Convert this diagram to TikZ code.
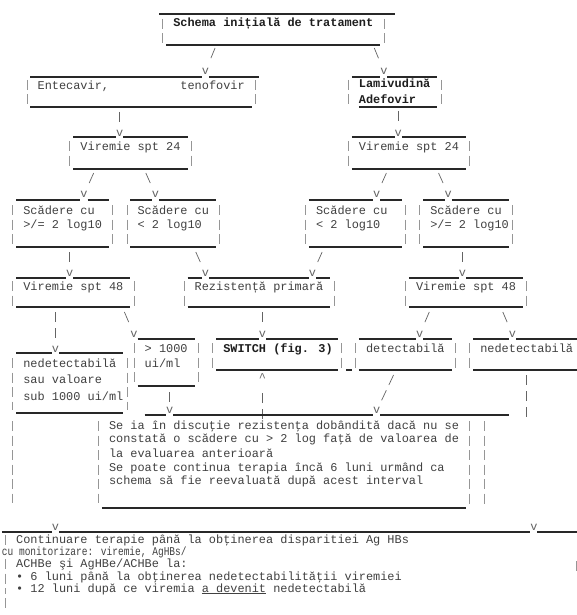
\documentclass[tikz,border=0pt]{standalone}
\usepackage{fontspec}
\newfontfamily\mono{Liberation Mono}
\usetikzlibrary{calc}
\definecolor{ink}{RGB}{65,65,65}
\definecolor{inkb}{RGB}{30,30,30}
\definecolor{rulec}{RGB}{40,40,40}
\definecolor{pipec}{RGB}{150,150,150}
\definecolor{tipc}{RGB}{100,100,100}
\tikzset{
 txt/.style={anchor=base west, inner sep=0pt, outer sep=0pt, font=\mono\fontsize{11.9}{13}\selectfont, text=ink, yshift=-3pt},
 btxt/.style={txt, font=\mono\bfseries\fontsize{11.9}{13}\selectfont, text=inkb},
 tip/.style={inner sep=0pt, outer sep=0pt, font=\mono\fontsize{11.9}{13}\selectfont, text=tipc, yshift=-1.5pt},
 uline/.style={draw=rulec, line width=1.1pt},
 bar/.style={draw=pipec, line width=0.7pt, dash pattern=on 10pt off 4.5pt},
 conn/.style={draw=tipc, line width=0.7pt},
 dconn/.style={conn, dash pattern=on 10pt off 6pt},
}
\newcommand\Hseg[3]{\draw[uline] (#1,#3) -- (#2,#3);}
\newcommand\Vbar[3]{\draw[bar] (#1,#2) -- (#1,#3);}
\begin{document}
\begin{tikzpicture}[x=7.14pt, y=-1pt]
\fill[white] (0,0) rectangle (80.812,615);
\useasboundingbox (0,0) rectangle (80.812,615);
\begin{scope}[xshift=5.5pt]
% ---- A : initial scheme
\Hseg{21.5}{54.5}{14}
\node[btxt] (schema) at (23.5,24) {Schema inițială de tratament};
\Vbar{22}{19}{44} \Vbar{53}{19}{44}
\Hseg{22.5}{52.5}{45}
% ---- A connectors
\node[tip] (vB) at (28,70) {v};
\node[tip] (vC) at (53,70) {v};
\coordinate (sA1) at (29.35,48);
\coordinate (sA2) at (51.65,48);
\draw[conn] (sA1) -- ($(sA1)!11pt!(vB)$);
\draw[conn] (sA2) -- ($(sA2)!11pt!(vC)$);
% ---- B
\Hseg{3.5}{27.5}{77} \Hseg{28.5}{35.5}{77}
\node[txt] (entec) at (4.5,87) {Entecavir,\hspace*{71.4pt}tenofovir};
\Vbar{3}{80}{106} \Vbar{35}{80}{106}
\Hseg{3.5}{34.5}{107}
% ---- C
\Hseg{48.5}{52.5}{77} \Hseg{53.5}{60.5}{77}
\node[btxt] (lami) at (49.5,85) {Lamivudină};
\node[btxt] (adef) at (49.5,100) {Adefovir};
\Vbar{48}{80}{106} \Vbar{61}{80}{106}
\Hseg{49.5}{60.5}{107}
% ---- B->D, C->E
\node[tip] (vD) at (16,132) {v};
\node[tip] (vE) at (55,132) {v};
\coordinate (sB) at (16,112);
\coordinate (sC) at (55,111);
\draw[conn] (sB) -- ($(sB)!10pt!(vD)$);
\draw[conn] (sC) -- ($(sC)!10pt!(vE)$);
% ---- D
\Hseg{9.5}{15.5}{137} \Hseg{16.5}{25.5}{137}
\node[txt] (vir24l) at (10.5,147) {Viremie spt 24};
\Vbar{9}{141}{167} \Vbar{26}{141}{167}
\Hseg{9.5}{25.5}{169}
% ---- E
\Hseg{48.5}{54.5}{137} \Hseg{55.5}{64.5}{137}
\node[txt] (vir24r) at (49.5,147) {Viremie spt 24};
\Vbar{48}{141}{167} \Vbar{65}{141}{167}
\Hseg{48.5}{64.5}{169}
% ---- D,E connectors
\node[tip] (vF1) at (11,193) {v};
\node[tip] (vF2) at (21,193) {v};
\node[tip] (vF3) at (52,193) {v};
\node[tip] (vF4) at (62,193) {v};
\coordinate (sD1) at (12.35,173);
\coordinate (sD2) at (19.65,173);
\coordinate (sE1) at (53.35,173);
\coordinate (sE2) at (60.65,173);
\draw[conn] (sD1) -- ($(sD1)!11pt!(vF1)$);
\draw[conn] (sD2) -- ($(sD2)!11pt!(vF2)$);
\draw[conn] (sE1) -- ($(sE1)!11pt!(vF3)$);
\draw[conn] (sE2) -- ($(sE2)!11pt!(vF4)$);
% ---- F1
\Hseg{1.5}{10.5}{200} \Hseg{11.5}{14.5}{200}
\node[txt] (f1a) at (2.5,211) {Scădere cu};
\node[txt] (f1b) at (2.5,225) {>/= 2 log10};
\Vbar{1}{205}{245} \Vbar{15}{205}{245}
\Hseg{1.5}{14.5}{247}
% ---- F2
\Hseg{17.5}{20.5}{200} \Hseg{21.5}{29.5}{200}
\node[txt] (f2a) at (18.5,211) {Scădere cu};
\node[txt] (f2b) at (18.5,225) {< 2 log10};
\Vbar{17}{205}{245} \Vbar{30}{205}{245}
\Hseg{17.5}{29.5}{247}
% ---- F3
\Hseg{42.5}{51.5}{200} \Hseg{52.5}{55.5}{200}
\node[txt] (f3a) at (43.5,211) {Scădere cu};
\node[txt] (f3b) at (43.5,225) {< 2 log10};
\Vbar{42}{205}{245} \Vbar{56}{205}{245}
\Hseg{42.5}{55.5}{247}
% ---- F4
\Hseg{58.5}{61.5}{200} \Hseg{62.5}{70.5}{200}
\node[txt] (f4a) at (59.5,211) {Scădere cu};
\node[txt] (f4b) at (59.5,225) {>/= 2 log10};
\Vbar{58}{205}{245} \Vbar{71}{205}{245}
\Hseg{58.5}{70.5}{247}
% ---- F connectors
\node[tip] (vG1) at (9,272) {v};
\node[tip] (vH1) at (28,272) {v};
\node[tip] (vH2) at (43,272) {v};
\node[tip] (vG2) at (64,272) {v};
\coordinate (sF1) at (9,252);
\coordinate (sF2) at (26.65,252);
\coordinate (sF3) at (44.35,252);
\coordinate (sF4) at (64,252);
\draw[conn] (sF1) -- ($(sF1)!10pt!(vG1)$);
\draw[conn] (sF2) -- ($(sF2)!11pt!(vH1)$);
\draw[conn] (sF3) -- ($(sF3)!11pt!(vH2)$);
\draw[conn] (sF4) -- ($(sF4)!10pt!(vG2)$);
% ---- G1
\Hseg{1.5}{8.5}{278} \Hseg{9.5}{17.5}{278}
\node[txt] (g1) at (2.5,287) {Viremie spt 48};
\Vbar{1}{281}{306} \Vbar{18}{281}{306}
\Hseg{1.5}{17.5}{307}
% ---- H
\Hseg{25.5}{27.5}{278} \Hseg{28.5}{42.5}{278} \Hseg{43.5}{45.5}{278}
\node[txt] (rez) at (26.5,287) {Rezistență primară};
\Vbar{25}{281}{306} \Vbar{46}{281}{306}
\Hseg{25.5}{45.5}{307}
% ---- G2
\Hseg{56.5}{63.5}{278} \Hseg{64.5}{72.5}{278}
\node[txt] (g2) at (57.5,287) {Viremie spt 48};
\Vbar{56}{281}{306} \Vbar{73}{281}{306}
\Hseg{56.5}{72.5}{307}
% ---- G/H connectors
\node[tip] (vI) at (7,348) {v};
\node[tip] (vJ) at (18,333) {v};
\node[tip] (vK) at (36,333) {v};
\node[tip] (vL) at (58,333) {v};
\node[tip] (vM) at (71,333) {v};
\coordinate (sG1a) at (7,312);
\coordinate (sG1b) at (16.65,312);
\coordinate (sH) at (36,312);
\coordinate (sG2a) at (59.35,312);
\coordinate (sG2b) at (69.65,312);
\draw[dconn] (sG1a) -- ($(sG1a)!26pt!(vI)$);
\draw[conn] (sG1b) -- ($(sG1b)!11pt!(vJ)$);
\draw[conn] (sH) -- ($(sH)!10pt!(vK)$);
\draw[conn] (sG2a) -- ($(sG2a)!11pt!(vL)$);
\draw[conn] (sG2b) -- ($(sG2b)!11pt!(vM)$);
% ---- J
\Hseg{18.5}{26.5}{339}
\node[txt] (j1) at (19.5,349) {> 1000};
\node[txt] (j2) at (19.5,364) {ui/ml};
\Vbar{18}{343}{385} \Vbar{27}{343}{385}
\Hseg{18.5}{26.5}{386}
% ---- K
\Hseg{29.5}{35.5}{339} \Hseg{36.5}{46.5}{339}
\node[btxt] (switch) at (30.5,349) {SWITCH (fig. 3)};
\Vbar{29}{343}{369} \Vbar{47}{343}{369}
\Hseg{29.5}{46.5}{370}
\Hseg{47.7}{48.5}{370}
% ---- L
\Hseg{49.5}{57.5}{339} \Hseg{58.5}{62.5}{339}
\node[txt] (det) at (50.5,349) {detectabilă};
\Vbar{49}{343}{369} \Vbar{63}{343}{369}
\Hseg{49.5}{62.5}{370}
% ---- M
\Hseg{65.5}{70.5}{339} \Hseg{71.5}{81}{339}
\node[txt] (nedr) at (66.5,349) {nedetectabilă};
\Vbar{65}{343}{369}
\Hseg{65.5}{81}{370}
% ---- I
\Hseg{1.5}{6.5}{353} \Hseg{7.5}{16.5}{353}
\node[txt] (i1) at (2.5,364) {nedetectabilă};
\node[txt] (i2) at (2.5,380) {sau valoare};
\node[txt] (i3) at (2.5,397) {sub 1000 ui/ml};
\Vbar{1}{358}{410} \Vbar{17}{358}{410}
\Hseg{1.5}{16.5}{413}
% ---- lower connectors
\node[tip, yshift=1.5pt] (upK) at (36,378) {\textasciicircum};
\node[tip] (vN1) at (23,409) {v};
\node[tip] (vN2) at (52,409) {v};
\coordinate (sN) at (36,419);
\coordinate (sJ) at (23,392);
\coordinate (sL) at (54.35,375);
\draw[dconn] (sN) -- ($(sN)!27pt!(upK)$);
\draw[conn] (sJ) -- ($(sJ)!10pt!(vN1)$);
\draw[conn, dash pattern=on 11pt off 6pt] (sL) -- ($(sL)!28pt!(vN2)$);
\coordinate (mTop) at (73,375);
\coordinate (mBot) at (73,419);
\draw[dconn] (mTop) -- (mBot);
% ---- N
\Hseg{19.5}{22.5}{415} \Hseg{23.5}{51.5}{415} \Hseg{52.5}{70.5}{415}
\node[txt] (n1) at (14.5,426) {Se ia în discuţie rezistenţa dobândită dacă nu se};
\node[txt] (n2) at (14.5,439) {constată o scădere cu > 2 log faţă de valoarea de};
\node[txt] (n3) at (14.5,454) {la evaluarea anterioară};
\node[txt] (n4) at (14.5,468) {Se poate continua terapia încă 6 luni urmând ca};
\node[txt] (n5) at (14.5,481) {schema să fie reevaluată după acest interval};
\Vbar{13}{421}{503} \Vbar{65}{421}{505} \Vbar{67}{421}{505}
\Hseg{13.5}{64.5}{508}
% ---- I to O
\coordinate (iTop) at (1,421);
\coordinate (iBot) at (1,503);
\draw[bar] (iTop) -- (iBot);
% ---- O
\node[tip] (vO1) at (7,526) {v};
\node[tip] (vO2) at (74,526) {v};
\Hseg{-0.5}{6.5}{532} \Hseg{7.5}{73.5}{532} \Hseg{74.5}{81}{532}
\node[txt] (o1) at (1.5,540) {Continuare terapie până la obţinerea disparitiei Ag HBs};
\node[txt] (o2) at (-0.5,552) {\scalebox{0.8}[1]{cu monitorizare: viremie, AgHBs/}};
\node[txt] (o3) at (1.5,564) {ACHBe şi AgHBe/ACHBe la:};
\node[txt] (o4) at (1.5,577) {• 6 luni până la obţinerea nedetectabilităţii viremiei};
\node[txt] (o5) at (1.5,589) {• 12 luni după ce viremia \underline{a devenit} nedetectabilă};
\Vbar{0}{535}{545} \Vbar{0}{559}{594} \Vbar{0}{598}{608}
\Vbar{80}{561}{572}
\end{scope}
\end{tikzpicture}
\end{document}
